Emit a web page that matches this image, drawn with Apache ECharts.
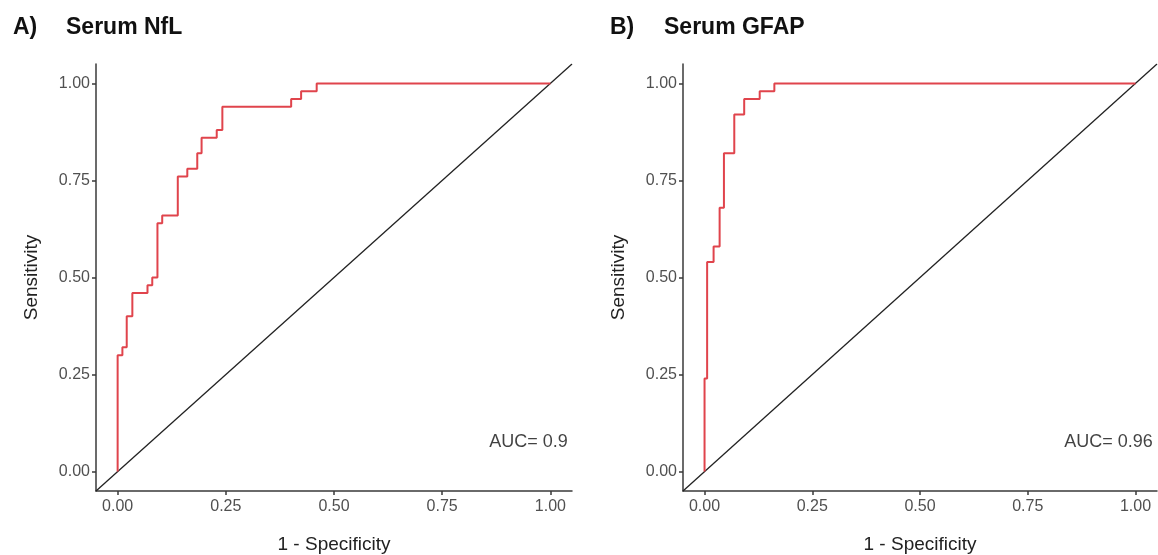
<!DOCTYPE html>
<html>
<head>
<meta charset="utf-8">
<script src="https://cdn.jsdelivr.net/npm/echarts@6/dist/echarts.min.js"></script>
<style>
html,body{margin:0;padding:0;background:#fff;}
#c{width:1158px;height:555px;}
</style>
</head>
<body>
<div id="c"></div>
<script>
// ---- data ----
var panelLetters = ['A)', 'B)'];
var panelTitles = ['Serum NfL', 'Serum GFAP'];
var nflFpr = [0, 0, 0.011, 0.021, 0.034, 0.069, 0.080, 0.092, 0.103, 0.139, 0.161, 0.184, 0.194, 0.229, 0.242, 0.401, 0.424, 0.460, 1.0];
var nflTpr = [0, 0.30, 0.32, 0.40, 0.46, 0.48, 0.50, 0.64, 0.66, 0.76, 0.78, 0.82, 0.86, 0.88, 0.94, 0.96, 0.98, 1.00, 1.00];
var gfapFpr = [0, 0, 0.006, 0.021, 0.035, 0.045, 0.069, 0.092, 0.128, 0.162, 1.0];
var gfapTpr = [0, 0.24, 0.54, 0.58, 0.68, 0.82, 0.92, 0.96, 0.98, 1.00, 1.00];
var refLine = [[-0.05, -0.05], [1.05, 1.05]];
var aucTexts = ['AUC= 0.9', 'AUC= 0.96'];
var aucPos = [[1.04, 0.077], [1.04, 0.077]];
var tickValues = [0, 0.25, 0.5, 0.75, 1];
var xName = '1 - Specificity';
var yName = 'Sensitivity';

function zip(a, b) { return a.map(function (v, i) { return [v, b[i]]; }); }

var chart = echarts.init(document.getElementById('c'), null, { renderer: 'canvas' });
var FONT = 'Liberation Sans, Arial, Helvetica, sans-serif';
var grids = [
  { left: 96, top: 64, width: 476, height: 427, containLabel: false, outerBoundsMode: 'none' },
  { left: 683, top: 64, width: 474, height: 427, containLabel: false, outerBoundsMode: 'none' }
];
function axisCommon(name, isX) {
  return {
    type: 'value', min: -0.05, max: 1.05,
    name: name, nameLocation: 'middle', nameGap: isX ? 44 : 55,
    nameTextStyle: { fontFamily: FONT, fontSize: 19, color: '#222' },
    axisLine: { show: true, onZero: false, lineStyle: { color: '#3a3a3a', width: 1.5 } },
    axisTick: { show: true, length: 4, lineStyle: { color: '#3a3a3a', width: 1.5 },
      customValues: tickValues },
    axisLabel: { fontFamily: FONT, fontSize: 16, color: '#505050', margin: isX ? 8 : 6,
      customValues: tickValues,
      formatter: function (v) { return v.toFixed(2); } },
    splitLine: { show: false }
  };
}
var xAxes = [], yAxes = [];
for (var i = 0; i < 2; i++) {
  var xa = axisCommon(xName, true); xa.gridIndex = i; xAxes.push(xa);
  var ya = axisCommon(yName, false); ya.gridIndex = i; yAxes.push(ya);
}
var curves = [zip(nflFpr, nflTpr), zip(gfapFpr, gfapTpr)];
var series = [];
for (var j = 0; j < 2; j++) {
  series.push({
    type: 'line', xAxisIndex: j, yAxisIndex: j, data: refLine,
    symbol: 'none', lineStyle: { color: '#222', width: 1.3 }, silent: true, z: 2
  });
  series.push({
    type: 'line', xAxisIndex: j, yAxisIndex: j, data: curves[j], step: 'end',
    symbol: 'none', lineStyle: { color: '#e0444c', width: 2 }, silent: true, z: 3
  });
  series.push({
    type: 'scatter', xAxisIndex: j, yAxisIndex: j, data: [aucPos[j]],
    symbolSize: 0, silent: true,
    label: { show: true, position: 'left', distance: 0, formatter: aucTexts[j],
      fontFamily: FONT, fontSize: 18, color: '#111' }
  });
}
var tStyle = { fontFamily: FONT, fontSize: 23, fontWeight: 'bold', color: '#111' };
chart.setOption({
  backgroundColor: '#fff',
  animation: false,
  title: [
    { text: panelLetters[0], left: 8, top: 11, textStyle: tStyle },
    { text: panelTitles[0], left: 61, top: 11, textStyle: tStyle },
    { text: panelLetters[1], left: 605, top: 11, textStyle: tStyle },
    { text: panelTitles[1], left: 659, top: 11, textStyle: tStyle }
  ],
  grid: grids,
  xAxis: xAxes,
  yAxis: yAxes,
  series: series
});
</script>
</body>
</html>
